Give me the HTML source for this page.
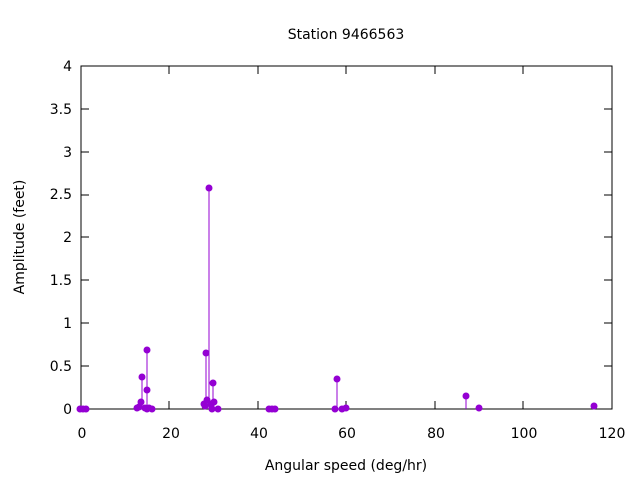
<!DOCTYPE html><html><head><style>body{margin:0;background:#fff}svg{font-family:"DejaVu Sans","Liberation Sans",sans-serif}</style></head><body>
<svg width="640" height="480" xmlns="http://www.w3.org/2000/svg">
<rect width="640" height="480" fill="#fff"/>
<g font-size="14" fill="#000">
<text x="346" y="39" text-anchor="middle">Station 9466563</text>
<text x="346" y="470" text-anchor="middle">Angular speed (deg/hr)</text>
<text transform="translate(24,237) rotate(-90)" text-anchor="middle">Amplitude (feet)</text>
<g text-anchor="end">
<text x="72" y="414">0</text><text x="72" y="371">0.5</text><text x="72" y="328">1</text><text x="72" y="285">1.5</text><text x="72" y="242">2</text><text x="72" y="199">2.5</text><text x="72" y="157">3</text><text x="72" y="114">3.5</text><text x="72" y="71">4</text>
</g>
<g text-anchor="middle">
<text x="82" y="438">0</text><text x="171" y="438">20</text><text x="259" y="438">40</text><text x="347" y="438">60</text><text x="436" y="438">80</text><text x="524" y="438">100</text><text x="612" y="438">120</text>
</g></g>
<g stroke="#000" stroke-width="1">
<rect x="81" y="66" width="531" height="343" fill="none"/>
<path d="M81 366h8M81 323h8M81 280h8M81 237h8M81 195h8M81 152h8M81 109h8M612 366h-8M612 323h-8M612 280h-8M612 237h-8M612 195h-8M612 152h-8M612 109h-8M169 409v-8M258 409v-8M346 409v-8M435 409v-8M523 409v-8M169 66v8M258 66v8M346 66v8M435 66v8M523 66v8"/>
</g>
<g stroke="#9400d3" stroke-width="1" fill="none">
<path d="M141 409V402M142 409V377M147 409V350M147 409V390M204 409V404M206 409V353M207 409V400M209 409V188M211 409V404M213 409V383M214 409V402M337 409V379M466 409V396M594 409V406"/>
</g>
<g fill="#9400d3">
<circle cx="80" cy="409" r="3.5"/><circle cx="83" cy="409" r="3.5"/><circle cx="86" cy="409" r="3.5"/>
<circle cx="137" cy="408" r="3.5"/><circle cx="139" cy="407" r="3.5"/><circle cx="141" cy="402" r="3.5"/><circle cx="142" cy="377" r="3.5"/><circle cx="147" cy="350" r="3.5"/><circle cx="147" cy="390" r="3.5"/><circle cx="145" cy="408" r="3.5"/><circle cx="147" cy="409" r="3.5"/><circle cx="149" cy="408" r="3.5"/><circle cx="152" cy="409" r="3.5"/>
<circle cx="204" cy="404" r="3.5"/><circle cx="206" cy="353" r="3.5"/><circle cx="207" cy="400" r="3.5"/><circle cx="209" cy="188" r="3.5"/><circle cx="211" cy="404" r="3.5"/><circle cx="213" cy="383" r="3.5"/><circle cx="214" cy="402" r="3.5"/><circle cx="212" cy="409" r="3.5"/><circle cx="218" cy="409" r="3.5"/><circle cx="205" cy="406" r="3.5"/>
<circle cx="269" cy="409" r="3.5"/><circle cx="272" cy="409" r="3.5"/><circle cx="275" cy="409" r="3.5"/>
<circle cx="335" cy="409" r="3.5"/><circle cx="337" cy="379" r="3.5"/><circle cx="342" cy="409" r="3.5"/><circle cx="346" cy="408" r="3.5"/>
<circle cx="466" cy="396" r="3.5"/><circle cx="479" cy="408" r="3.5"/><circle cx="594" cy="406" r="3.5"/>
</g>
</svg></body></html>
